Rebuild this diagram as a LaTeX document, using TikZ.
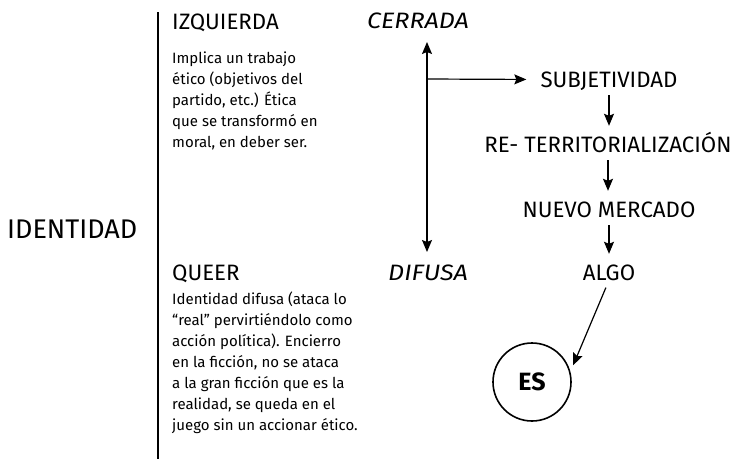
\documentclass[tikz,border=0pt]{standalone}
\usepackage{fontspec}
\setmainfont{Fira Sans}
\usetikzlibrary{arrows.meta}

% font size that gives #2 the width #3 (in pt)
\newlength\probe
\newcommand\fitsize[3]{\settowidth\probe{\fontsize{10}{12}\selectfont #2}\pgfmathsetmacro#1{10*#3/\probe}}
\AtBeginDocument{%
  \fitsize\szhead{SUBJETIVIDADRE- TERRITORIALIZACIÓNNUEVO MERCADOIZQUIERDAQUEERALGO}{783}%
  \fitsize\szpara{que se transformó enjuego sin un accionar ético.}{331}%
  \fitsize\szident{IDENTIDAD}{130}}

\tikzset{
  head/.style={anchor=base west, inner sep=0pt, font=\fontsize{\szhead}{26}\selectfont},
  slant/.style={head, font=\fontsize{\szhead}{26}\selectfont\itshape\addfontfeature{FakeStretch=1.13}},
  para/.style={anchor=base west, inner sep=0pt, align=left, font=\fontsize{\szpara}{21}\selectfont},
  chain/.style={anchor=base, inner sep=0pt, text height=15pt, text depth=0pt, font=\fontsize{\szhead}{26}\selectfont},
  arr/.style={line width=1.2pt, -{Stealth[length=12pt,width=10pt,inset=2pt]}},
  dbl/.style={line width=1.2pt, {Stealth[length=12pt,width=10pt,inset=2pt]}-{Stealth[length=12pt,width=10pt,inset=2pt]}}
}

\begin{document}
\begin{tikzpicture}[x=1pt,y=-1pt]
\useasboundingbox (0,0) rectangle (733,459);

% left column
\node[head, font=\fontsize{\szident}{32}\selectfont] (ident) at (7,238) {IDENTIDAD};
\coordinate (bartop) at (158,12);
\coordinate (barbot) at (158,459);
\draw[line width=2.6pt] (bartop) -- (barbot);

\node[head] (izq) at (172,29) {IZQUIERDA};
% base = last line
\node[para] (izqtxt) at (172,147) {Implica un trabajo\\ético (objetivos del\\partido, etc.) Ética\\que se transformó en\\moral, en deber ser.};
\node[head] (queer) at (172,280) {QUEER};
\node[para] (queertxt) at (172,430) {Identidad difusa (ataca lo\\``real'' pervirtiéndolo como\\acción política). Encierro\\en la ficción, no se ataca\\a la gran ficción que es la\\realidad, se queda en el\\juego sin un accionar ético.};

% axis
\node[slant] (cerrada) at (367,28) {CERRADA};
\node[slant] (difusa) at (388,280) {DIFUSA};
\coordinate (axtop) at (427,42);
\coordinate (axbot) at (427,252);
\coordinate (branch) at (427,79);
\draw[dbl] (axtop) -- (axbot);

% chain
\node[chain] (subj) at (609,87) {SUBJETIVIDAD};
\node[chain] (reterr) at (608,152) {RE- TERRITORIALIZACIÓN};
\node[chain] (mercado) at (609,217) {NUEVO MERCADO};
\node[chain] (algo) at (609,280) {ALGO};
\node[circle, draw, line width=1.6pt, minimum size=78pt, inner sep=0pt, font=\fontsize{25}{30}\selectfont\bfseries] (es) at (532,382) {ES};

\draw[arr, shorten >=14pt] (branch) -- (subj.west);
\foreach \a/\b in {subj/reterr, reterr/mercado, mercado/algo}
  \draw[arr, shorten <=8pt, shorten >=11pt] (\a.south) -- (\a.south |- \b.north);
\draw[arr, shorten <=8pt, shorten >=7pt] (algo.south) -- (es.15);
\end{tikzpicture}
\end{document}
